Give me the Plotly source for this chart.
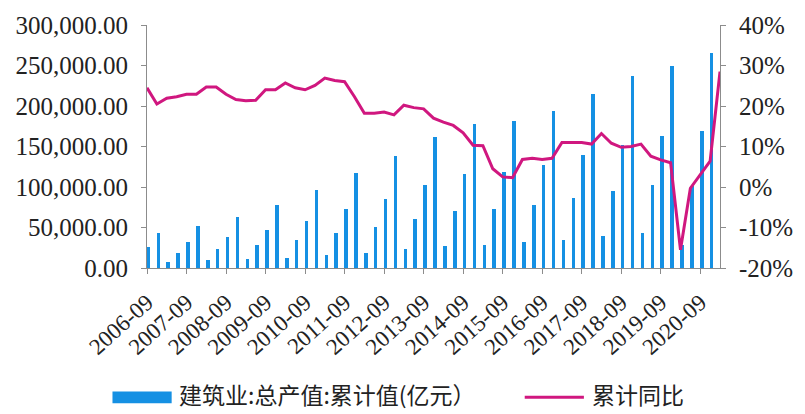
import plotly.graph_objects as go

# Quarter-end periods: 2006-09 .. 2021-03
quarters = [f"{y}-{m:02d}" for y in range(2006, 2022) for m in (3, 6, 9, 12)]
quarters = quarters[quarters.index("2006-09"):quarters.index("2021-03") + 1]

# 建筑业总产值累计值 (亿元), 2006-09 .. 2020-12
output_cum = [
    25800, 42700,
    7700, 18600, 31500, 51600,
    9700, 23400, 37900, 62900,
    10900, 28200, 46800, 77400,
    12900, 34700, 58000, 96400,
    16500, 43100, 73400, 117000,
    18900, 50800, 85500, 138000,
    23000, 60900, 102500, 161700,
    26600, 70200, 115800, 177400,
    29000, 73400, 118500, 181500,
    31500, 77800, 126600, 194400,
    34700, 86300, 139500, 214900,
    39500, 95600, 152400, 236700,
    43100, 102500, 163300, 249600,
    28000, 101600, 169000, 265000,
]

# 累计同比 (%), 2006-09 .. 2021-03
yoy_cum = [
    24.5, 20.5, 21.9, 22.3, 22.9, 22.9, 24.7, 24.7, 22.9, 21.6,
    21.3, 21.4, 24.0, 24.0, 25.7, 24.5, 24.0, 25.1, 26.9, 26.3,
    26.0, 22.3, 18.2, 18.2, 18.5, 17.8, 20.2, 19.6, 19.3, 17.0,
    16.0, 15.2, 13.4, 10.3, 10.2, 4.5, 2.5, 2.3, 6.8, 7.1,
    6.8, 7.1, 11.0, 11.0, 11.0, 10.6, 13.2, 10.8, 9.8, 10.0,
    10.6, 7.6, 6.7, 6.0, -15.5, -0.3, 3.0, 6.4, 28.5,
]

tick_labels = [f"{y}-09" for y in range(2006, 2021)]
pct_ticks = [-20, -10, 0, 10, 20, 30, 40]
pct_labels = [f"{v}%" for v in pct_ticks]

bar_name = "建筑业:总产值:累计值(亿元）"
line_name = "累计同比"
bar_color = "#1590E3"
line_color = "#D0177F"
axis_color = "#8c8c8c"
text_color = "#222222"
serif = "Liberation Serif"
cjk = "Noto Sans CJK SC"

fig = go.Figure()
fig.add_trace(go.Bar(
    x=quarters[:len(output_cum)], y=output_cum, name=bar_name,
    marker=dict(color=bar_color, line=dict(width=0)),
    width=0.36, offset=-0.03, yaxis="y",
))
fig.add_trace(go.Scatter(
    x=quarters[:len(yoy_cum)], y=yoy_cum, name=line_name, mode="lines",
    line=dict(color=line_color, width=3), yaxis="y2",
))

axis_common = dict(
    showline=True, linecolor=axis_color, linewidth=1,
    ticks="outside", ticklen=5, tickcolor=axis_color,
    showgrid=False, zeroline=False,
)

fig.update_layout(
    width=805, height=414,
    margin=dict(l=147, r=77, t=20, b=146),
    paper_bgcolor="white", plot_bgcolor="white",
    showlegend=False,
    bargap=0,
    font=dict(family=serif, color=text_color),
    xaxis=dict(
        type="category", range=[0, len(quarters) - 1],
        tickmode="array", tickvals=tick_labels, ticktext=tick_labels,
        tickangle=-42, ticklabelstandoff=6,
        tickfont=dict(family=serif, size=23, color=text_color),
        **axis_common,
    ),
    yaxis=dict(
        range=[0, 300000], tickmode="linear", tick0=0, dtick=50000,
        tickformat=",.2f", ticklabelstandoff=8,
        tickfont=dict(family=serif, size=25, color=text_color),
        **axis_common,
    ),
    yaxis2=dict(
        range=[-20, 40], tickmode="array", tickvals=pct_ticks, ticktext=pct_labels,
        side="right", overlaying="y", ticklabelstandoff=8,
        tickfont=dict(family=serif, size=25, color=text_color),
        **axis_common,
    ),
)

# Legend row beneath the date labels
plot_w, plot_h = 805 - 147 - 77, 414 - 20 - 146


def px_x(px):
    return (px - 147) / plot_w


def px_y(py):
    return (414 - 146 - py) / plot_h


fig.add_shape(type="rect", xref="paper", yref="paper",
              x0=px_x(112), x1=px_x(172), y0=px_y(406), y1=px_y(394),
              fillcolor=bar_color, line=dict(width=0))
fig.add_shape(type="line", xref="paper", yref="paper",
              x0=px_x(530), x1=px_x(590), y0=px_y(400), y1=px_y(400),
              line=dict(color=line_color, width=3))
fig.add_annotation(xref="paper", yref="paper", x=px_x(177), y=px_y(397),
                   text=bar_name, showarrow=False, xanchor="left", yanchor="middle",
                   font=dict(family=cjk, size=23, color=text_color))
fig.add_annotation(xref="paper", yref="paper", x=px_x(596), y=px_y(397),
                   text=line_name, showarrow=False, xanchor="left", yanchor="middle",
                   font=dict(family=cjk, size=23, color=text_color))

fig.write_html("out.html")
